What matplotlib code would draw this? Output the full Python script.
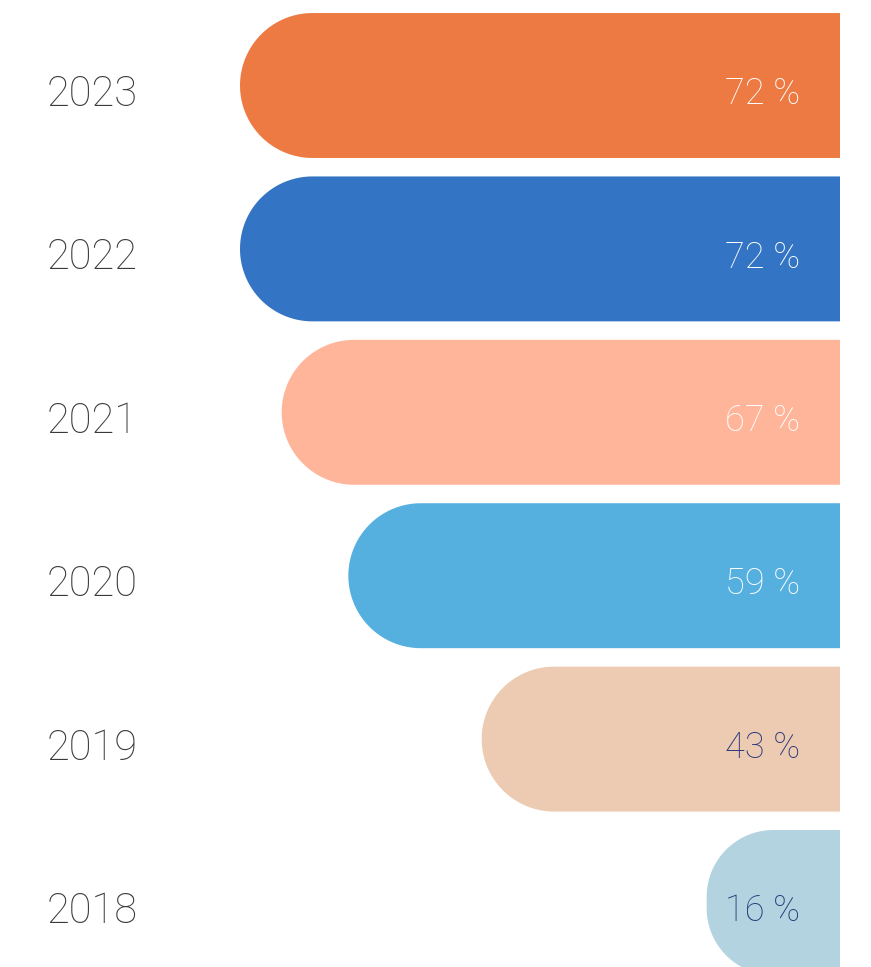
import numpy as np
import matplotlib.pyplot as plt
from matplotlib.patches import Polygon
from matplotlib.transforms import blended_transform_factory

# share of respondents per year
years = ["2023", "2022", "2021", "2020", "2019", "2018"]
values = [72, 72, 67, 59, 43, 16]
bar_colors = ["#EE7A43", "#3474C4", "#FFB59A", "#56B0DF", "#EDCBB3", "#B3D3E0"]
text_colors = ["white", "white", "white", "white", "#2B3A7A", "#2B3A7A"]

W, H, DPI = 871, 967, 100
px_per_pct = 600 / 72      # horizontal scale
px_per_row = 163.4         # row pitch
bar_h = 0.887              # bar height in row units
right_px = 840

fig = plt.figure(figsize=(W / DPI, H / DPI), dpi=DPI)
ax = fig.add_axes([0, 0, 1, 1])
ax.set_xlim(-right_px / px_per_pct, (W - right_px) / px_per_pct)
ax.set_ylim((H - 85.5) / px_per_row, -85.5 / px_per_row)
ax.axis("off")


def half_pill(x0, x1, yc, h):
    # bar with a rounded left end, square right end
    h_px = h * px_per_row
    w_px = (x1 - x0) * px_per_pct
    r_px = min(h_px / 2, w_px / 2)
    rx = r_px / px_per_pct
    ry = r_px / px_per_row
    top, bot = yc - h / 2, yc + h / 2
    t1 = np.linspace(np.pi / 2, np.pi, 40)
    t2 = np.linspace(np.pi, 3 * np.pi / 2, 40)
    # top-left corner (y axis inverted: top = smaller y)
    c1 = np.column_stack([x0 + rx + rx * np.cos(t1), top + ry - ry * np.sin(t1)])
    c2 = np.column_stack([x0 + rx + rx * np.cos(t2), bot - ry - ry * np.sin(t2)])
    pts = np.vstack([[[x1, top]], c1, c2, [[x1, bot]]])
    return Polygon(pts, closed=True)


lab_tr = blended_transform_factory(ax.transAxes, ax.transData)
for i, (yr, v, bc, tc) in enumerate(zip(years, values, bar_colors, text_colors)):
    p = half_pill(-v, 0, i, bar_h)
    p.set_facecolor(bc)
    p.set_edgecolor("none")
    ax.add_patch(p)
    ax.text(47 / W, i + 0.125, yr, transform=lab_tr, ha="left", va="baseline",
            fontsize=30, color="#3A3A3A", family="Roboto", weight="light")
    ax.text(-40 / px_per_pct, i + 0.115, f"{v} %", ha="right", va="baseline",
            fontsize=26, color=tc, family="Roboto", weight="light")

fig.savefig("out.png", dpi=DPI)
